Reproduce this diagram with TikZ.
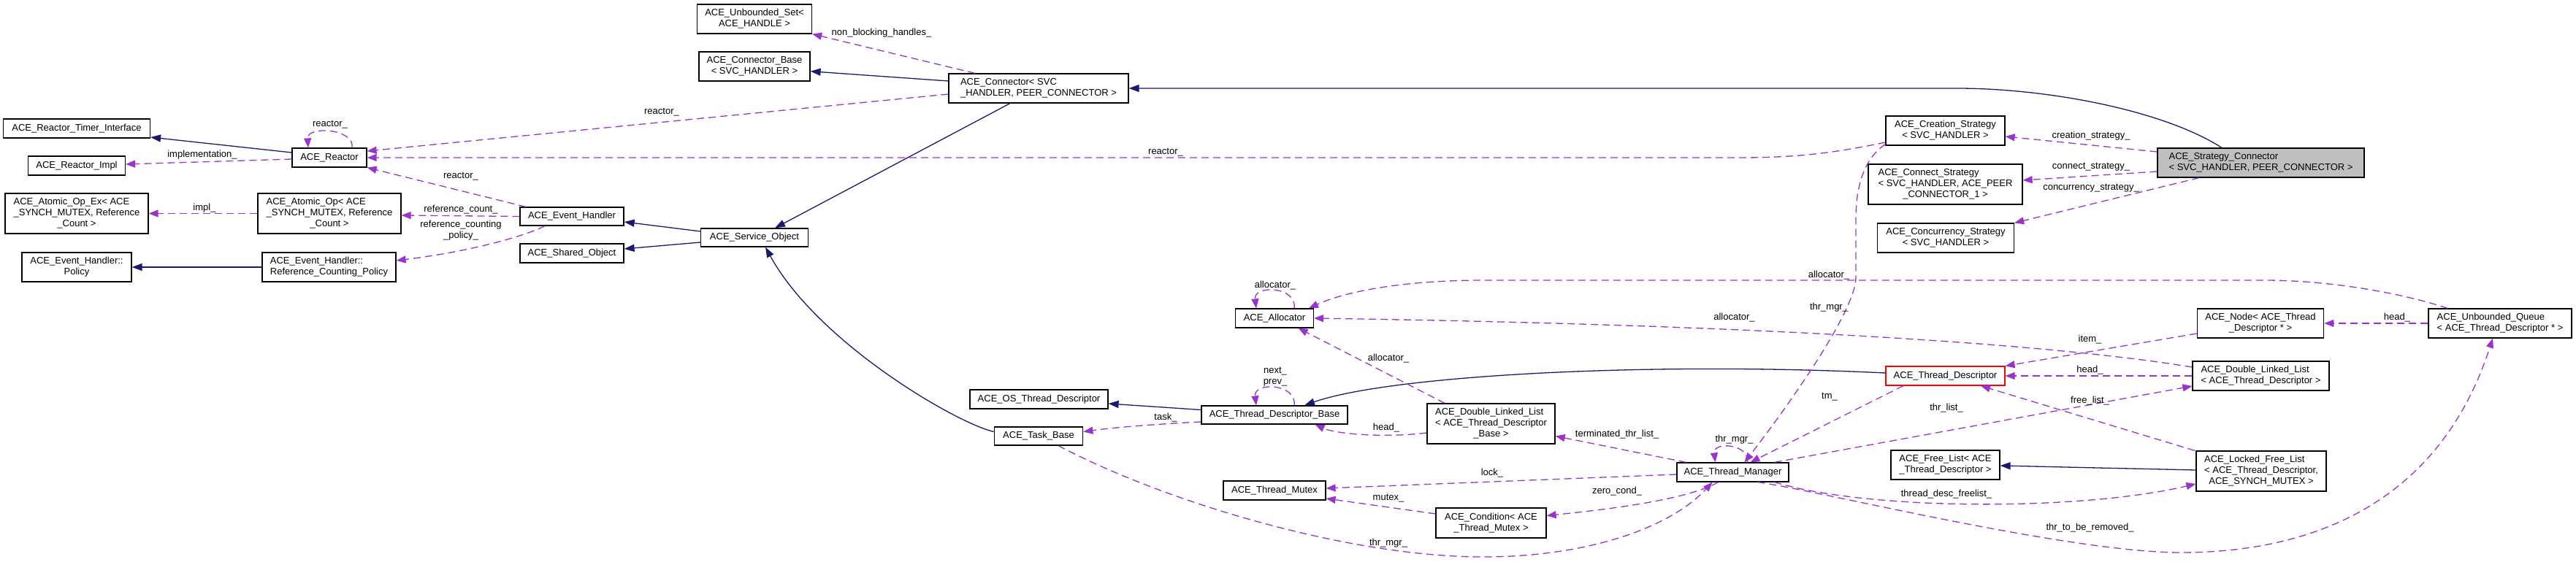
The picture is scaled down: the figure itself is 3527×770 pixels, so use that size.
\documentclass[tikz,border=0pt]{standalone}
\usepackage{fontspec}
\setmainfont{Liberation Sans}
\usetikzlibrary{arrows.meta}
\definecolor{inhc}{HTML}{191970}
\definecolor{usec}{HTML}{9A32CD}
\definecolor{selc}{HTML}{BFBFBF}
\newcommand{\twol}[2]{\begin{tabular}{@{}l@{}}#1\\\multicolumn{1}{@{}c@{}}{#2}\end{tabular}}
\newcommand{\threel}[3]{\begin{tabular}{@{}l@{}}#1\\#2\\\multicolumn{1}{@{}c@{}}{#3}\end{tabular}}
\tikzset{
 cls/.style={draw=black, line width=1.2pt, fill=white, inner sep=0pt, font=\fontsize{13}{15}\selectfont, align=center},
 inh/.style={draw=inhc, line width=1.3pt, -{Triangle[length=14pt,width=10pt]}},
 use/.style={draw=usec, line width=1.3pt, dash pattern=on 10pt off 6pt, -{Triangle[length=13pt,width=10pt]}},
 lbl/.style={inner sep=0pt, font=\fontsize{13}{15}\selectfont, align=center},
}
\begin{document}
\begin{tikzpicture}[x=1pt,y=-1pt]
\useasboundingbox (0,0) rectangle (3527,770);
% nodes
\node[cls,minimum width=201pt,minimum height=26pt] (timer) at (105,176) {ACE\_Reactor\_Timer\_Interface};
\node[cls,minimum width=133pt,minimum height=26pt] (impl) at (105,227) {ACE\_Reactor\_Impl};
\node[cls,minimum width=102pt,minimum height=26pt] (reactor) at (451,216) {ACE\_Reactor};
\node[cls,minimum width=196pt,minimum height=55pt] (aopex) at (105,292.5) {\threel{ACE\_Atomic\_Op\_Ex< ACE}{\_SYNCH\_MUTEX, Reference}{\_Count >}};
\node[cls,minimum width=196pt,minimum height=55pt] (aop) at (451,292.5) {\threel{ACE\_Atomic\_Op< ACE}{\_SYNCH\_MUTEX, Reference}{\_Count >}};
\node[cls,minimum width=150pt,minimum height=40pt] (policy) at (105,366) {\twol{ACE\_Event\_Handler::}{Policy}};
\node[cls,minimum width=183pt,minimum height=40pt] (rcpolicy) at (450.5,366) {\twol{ACE\_Event\_Handler::}{Reference\_Counting\_Policy}};
\node[cls,minimum width=142pt,minimum height=25pt] (evh) at (783,296.5) {ACE\_Event\_Handler};
\node[cls,minimum width=142pt,minimum height=26pt] (shared) at (783,347) {ACE\_Shared\_Object};
\node[cls,minimum width=157pt,minimum height=40pt] (uset) at (1033,26) {\twol{ACE\_Unbounded\_Set<}{ACE\_HANDLE >}};
\node[cls,minimum width=152pt,minimum height=40pt] (cbase) at (1033,91) {\twol{ACE\_Connector\_Base}{< SVC\_HANDLER >}};
\node[cls,minimum width=246pt,minimum height=40pt] (conn) at (1422,121) {\twol{ACE\_Connector< SVC}{\_HANDLER, PEER\_CONNECTOR >}};
\node[cls,minimum width=147pt,minimum height=25pt] (svcobj) at (1033,325.5) {ACE\_Service\_Object};
\node[cls,minimum width=189pt,minimum height=26pt] (ostd) at (1422.5,547) {ACE\_OS\_Thread\_Descriptor};
\node[cls,minimum width=121.5pt,minimum height=25pt] (task) at (1422,597.5) {ACE\_Task\_Base};
\node[cls,minimum width=200pt,minimum height=25pt] (tdb) at (1745,568.5) {ACE\_Thread\_Descriptor\_Base};
\node[cls,minimum width=107pt,minimum height=26pt] (alloc) at (1745,436) {ACE\_Allocator};
\node[cls,minimum width=140pt,minimum height=26pt] (mutex) at (1745,672) {ACE\_Thread\_Mutex};
\node[cls,minimum width=175pt,minimum height=55pt] (dlltdb) at (2041.5,580.5) {\threel{ACE\_Double\_Linked\_List}{< ACE\_Thread\_Descriptor}{\_Base >}};
\node[cls,minimum width=151pt,minimum height=41pt] (cond) at (2041.5,716.5) {\twol{ACE\_Condition< ACE}{\_Thread\_Mutex >}};
\node[cls,minimum width=153pt,minimum height=26pt] (tm) at (2372.5,647) {ACE\_Thread\_Manager};
\node[cls,minimum width=163pt,minimum height=40pt] (creat) at (2663.5,179) {\twol{ACE\_Creation\_Strategy}{< SVC\_HANDLER >}};
\node[cls,minimum width=211pt,minimum height=55pt] (cstrat) at (2663.5,252.5) {\threel{ACE\_Connect\_Strategy}{< SVC\_HANDLER, ACE\_PEER}{\_CONNECTOR\_1 >}};
\node[cls,minimum width=187pt,minimum height=40pt] (conc) at (2664,326) {\twol{ACE\_Concurrency\_Strategy}{< SVC\_HANDLER >}};
\node[cls,fill=selc,minimum width=283pt,minimum height=40pt] (strat) at (3095.5,223) {\twol{ACE\_Strategy\_Connector}{< SVC\_HANDLER, PEER\_CONNECTOR >}};
\node[cls,draw=red,minimum width=163pt,minimum height=26pt] (td) at (2663.5,515) {ACE\_Thread\_Descriptor};
\node[cls,minimum width=173.5pt,minimum height=40pt] (nd) at (3095,443) {\twol{ACE\_Node< ACE\_Thread}{\_Descriptor * >}};
\node[cls,minimum width=196pt,minimum height=40pt] (uq) at (3423,443) {\twol{ACE\_Unbounded\_Queue}{< ACE\_Thread\_Descriptor * >}};
\node[cls,minimum width=187pt,minimum height=40pt] (dlltd) at (3095.5,515) {\twol{ACE\_Double\_Linked\_List}{< ACE\_Thread\_Descriptor >}};
\node[cls,minimum width=149pt,minimum height=40pt] (flist) at (2663.5,637) {\twol{ACE\_Free\_List< ACE}{\_Thread\_Descriptor >}};
\node[cls,minimum width=178pt,minimum height=55pt] (lfl) at (3096,645.5) {\threel{ACE\_Locked\_Free\_List}{< ACE\_Thread\_Descriptor,}{ACE\_SYNCH\_MUTEX >}};
% inheritance
\draw[inh] ([yshift=7pt]reactor.west) -- ([yshift=-12pt]timer.east);
\draw[inh] (rcpolicy.west) -- (policy.east);
\draw[inh] ([yshift=8.5pt]svcobj.west) -- ([yshift=-7.5pt]evh.east);
\draw[inh] ([yshift=-6.5pt]svcobj.west) -- ([yshift=6pt]shared.east);
\draw[inh] ([yshift=10pt]conn.west) -- ([yshift=-6.7pt]cbase.east);
\draw[inh] ([xshift=-39pt]conn.south) -- ([xshift=28pt]svcobj.north);
\draw[inh] ([yshift=6pt]task.west) .. controls (1310,580) and (1120,470) .. ([xshift=15pt]svcobj.south);
\draw[inh] ([xshift=-53.5pt]strat.north) .. controls (2960,150) and (2800,121) .. (2680,121) -- (conn.east);
\draw[inh] ([yshift=7pt]tdb.west) -- ([yshift=-6pt]ostd.east);
\draw[inh] ([yshift=4pt]td.west) .. controls (2250,495) and (1900,515) .. ([xshift=41pt]tdb.north);
\draw[inh] ([yshift=1.5pt]lfl.west) -- ([yshift=-1pt]flist.east);
% usage
\draw[use] ([xshift=31pt]reactor.north) .. controls (486,176) and (420,172) .. ([xshift=-29pt]reactor.north);
\draw[use] ([yshift=-2pt]reactor.west) -- ([yshift=2pt]impl.east);
\draw[use] ([yshift=-8pt]conn.west) -- ([yshift=9pt]reactor.east);
\draw[use] ([yshift=-16pt]creat.west) .. controls (2500,212) and (2450,216) .. (2380,216) -- (reactor.east);
\draw[use] ([xshift=-63pt]evh.north) -- (reactor.south east);
\draw[use] (evh.west) -- ([yshift=-2.5pt]aop.east);
\draw[use] ([xshift=-37pt]evh.south) .. controls (715,325) and (640,345) .. ([yshift=9pt]rcpolicy.east);
\draw[use] (aop.west) -- (aopex.east);
\draw[use] ([xshift=-87pt]conn.north) -- (uset.south east);
\draw[use] ([yshift=15pt]strat.west) -- ([yshift=-8pt]creat.east);
\draw[use] ([yshift=-12pt]strat.west) -- ([yshift=5.5pt]cstrat.east);
\draw[use] ([xshift=-84.5pt]strat.south) -- (conc.north east);
\draw[use] ([xshift=27pt]alloc.north) .. controls (1776,392) and (1716,390) .. ([xshift=-25pt]alloc.north);
\draw[use] ([yshift=2pt]creat.south west) .. controls (2555,215) and (2541,250) .. (2541,300) -- (2541,380) .. controls (2541,430) and (2430,580) .. ([xshift=16pt]tm.north);
\draw[use] ([xshift=-72pt]uq.north) .. controls (3300,405) and (3200,384) .. (3100,384) -- (2030,384) .. controls (1920,384) and (1840,400) .. ([xshift=47pt]alloc.north);
\draw[use] ([yshift=12pt]dlltd.west) .. controls (2800,470) and (2400,445) .. (alloc.east);
\draw[use] ([xshift=-63.5pt]dlltdb.north) -- ([xshift=32.5pt]alloc.south);
\draw[use] ([xshift=27pt]tdb.north) .. controls (1776,525) and (1716,523) .. ([xshift=-25pt]tdb.north);
\draw[use] ([yshift=-9.5pt]tdb.west) .. controls (1600,580) and (1530,585) .. ([yshift=6pt]task.east);
\draw[use] ([yshift=-12.5pt]dlltdb.west) .. controls (1900,600) and (1830,595) .. ([xshift=55.5pt]tdb.south);
\draw[use] ([xshift=-64pt]tm.north) -- ([yshift=-17pt]dlltdb.east);
\draw[use] ([xshift=20pt]tm.north) .. controls (2395,607) and (2345,605) .. ([xshift=-24pt]tm.north);
\draw[use] ([yshift=-3pt]tm.west) -- ([yshift=3pt]mutex.east);
\draw[use] ([yshift=12.5pt]cond.west) -- ([yshift=-11pt]mutex.east);
\draw[use] ([xshift=-20pt]tm.south) .. controls (2310,685) and (2200,698) .. ([yshift=10pt]cond.east);
\draw[use] ([xshift=27pt]task.south) .. controls (1600,690) and (1850,763) .. (2030,763) .. controls (2180,763) and (2290,720) .. ([xshift=-28pt]tm.south);
\draw[use] ([xshift=-57.5pt]td.south) -- ([xshift=24pt]tm.north);
\draw[use] ([xshift=57pt]tm.north) -- ([yshift=-14pt]dlltd.west);
\draw[use] ([xshift=-91pt]lfl.north) -- ([xshift=48.5pt]td.south);
\draw[use] ([yshift=-14pt]nd.west) -- (td.north east);
\draw[use] (dlltd.west) -- (td.east);
\draw[use] (uq.west) -- (nd.east);
\draw[use] ([xshift=57pt]tm.south) .. controls (2560,700) and (2850,700) .. ([yshift=-17.5pt]lfl.west);
\draw[use] ([xshift=34pt]tm.south) .. controls (2480,670) and (2830,757) .. (2986,757) .. controls (3120,757) and (3330,720) .. ([xshift=-10pt]uq.south);
% labels
\node[lbl] (l1) at (452,171) {reactor\_};
\node[lbl] (l2) at (277,212) {implementation\_};
\node[lbl] (l3) at (906,154) {reactor\_};
\node[lbl] (l4) at (1596,209) {reactor\_};
\node[lbl] (l5) at (631,242) {reactor\_};
\node[lbl] (l6) at (631,287) {reference\_count\_};
\node[lbl] (l7) at (631,316) {reference\_counting\\\_policy\_};
\node[lbl] (l8) at (280,285) {impl\_};
\node[lbl] (l9) at (1207,45) {non\_blocking\_handles\_};
\node[lbl] (l10) at (2863,186) {creation\_strategy\_};
\node[lbl] (l11) at (2863,229) {connect\_strategy\_};
\node[lbl] (l12) at (2863,258) {concurrency\_strategy\_};
\node[lbl] (l13) at (1746,391) {allocator\_};
\node[lbl] (l14) at (2504,421) {thr\_mgr\_};
\node[lbl] (l15) at (2504,377) {allocator\_};
\node[lbl] (l16) at (2374.5,435) {allocator\_};
\node[lbl] (l17) at (1901,490.7) {allocator\_};
\node[lbl] (l18) at (1746,516) {next\_\\prev\_};
\node[lbl] (l19) at (1596,572) {task\_};
\node[lbl] (l20) at (1898,586) {head\_};
\node[lbl] (l21) at (2214,595) {terminated\_thr\_list\_};
\node[lbl] (l22) at (2374.5,601.7) {thr\_mgr\_};
\node[lbl] (l23) at (2043,648) {lock\_};
\node[lbl] (l24) at (1901,682.7) {mutex\_};
\node[lbl] (l25) at (2214,672.7) {zero\_cond\_};
\node[lbl] (l26) at (1901,744) {thr\_mgr\_};
\node[lbl] (l27) at (2505,544) {tm\_};
\node[lbl] (l28) at (2665,559) {thr\_list\_};
\node[lbl] (l29) at (2861.5,549) {free\_list\_};
\node[lbl] (l30) at (2861.5,465) {item\_};
\node[lbl] (l31) at (2861.5,506.7) {head\_};
\node[lbl] (l32) at (3282,435) {head\_};
\node[lbl] (l33) at (2665,677) {thread\_desc\_freelist\_};
\node[lbl] (l34) at (2861.5,723) {thr\_to\_be\_removed\_};
\end{tikzpicture}
\end{document}
